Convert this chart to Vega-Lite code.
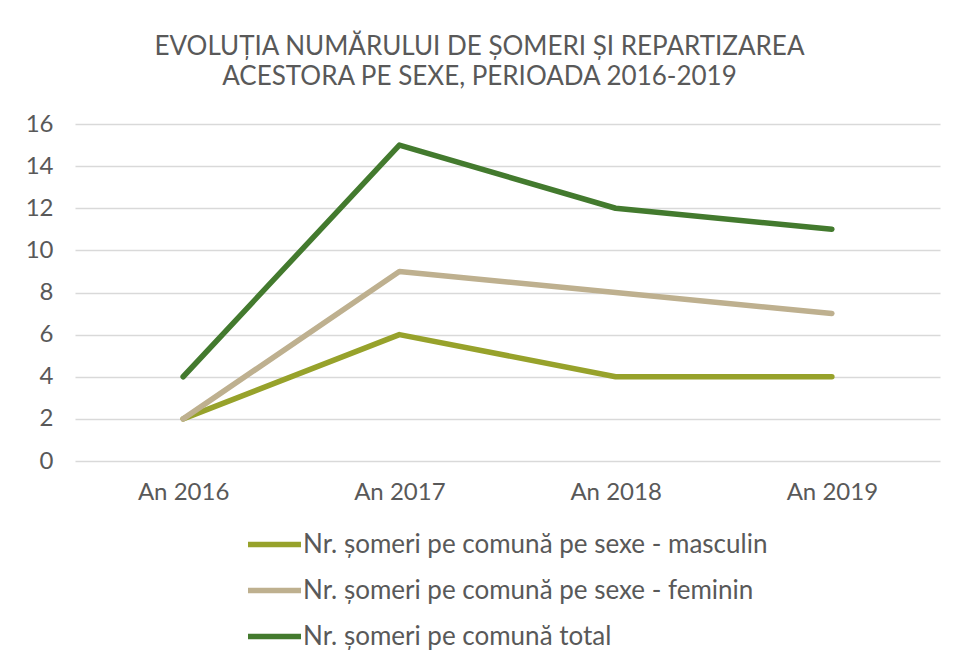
{
  "$schema": "https://vega.github.io/schema/vega-lite/v6.json",
  "autosize": "none",
  "width": 865,
  "height": 337,
  "padding": {"left": 75, "top": 124, "right": 17, "bottom": 203},
  "background": "white",
  "title": {
    "text": ["EVOLUȚIA NUMĂRULUI DE ȘOMERI ȘI REPARTIZAREA", "ACESTORA PE SEXE, PERIOADA 2016-2019"],
    "font": "Lato",
    "fontSize": 26,
    "fontWeight": "normal",
    "color": "#595959",
    "lineHeight": 30,
    "anchor": "middle",
    "dx": -28,
    "offset": 22
  },
  "data": {
    "values": [
      {"an": "An 2016", "serie": "Nr. șomeri pe comună pe sexe - masculin", "valoare": 2},
      {"an": "An 2017", "serie": "Nr. șomeri pe comună pe sexe - masculin", "valoare": 6},
      {"an": "An 2018", "serie": "Nr. șomeri pe comună pe sexe - masculin", "valoare": 4},
      {"an": "An 2019", "serie": "Nr. șomeri pe comună pe sexe - masculin", "valoare": 4},
      {"an": "An 2016", "serie": "Nr. șomeri pe comună pe sexe - feminin", "valoare": 2},
      {"an": "An 2017", "serie": "Nr. șomeri pe comună pe sexe - feminin", "valoare": 9},
      {"an": "An 2018", "serie": "Nr. șomeri pe comună pe sexe - feminin", "valoare": 8},
      {"an": "An 2019", "serie": "Nr. șomeri pe comună pe sexe - feminin", "valoare": 7},
      {"an": "An 2016", "serie": "Nr. șomeri pe comună total", "valoare": 4},
      {"an": "An 2017", "serie": "Nr. șomeri pe comună total", "valoare": 15},
      {"an": "An 2018", "serie": "Nr. șomeri pe comună total", "valoare": 12},
      {"an": "An 2019", "serie": "Nr. șomeri pe comună total", "valoare": 11}
    ]
  },
  "mark": {"type": "line", "strokeWidth": 5.5, "strokeCap": "round", "strokeJoin": "round"},
  "encoding": {
    "x": {
      "field": "an",
      "type": "ordinal",
      "scale": {"type": "point", "padding": 0.5},
      "axis": {
        "title": null,
        "labelAngle": 0,
        "domain": false,
        "ticks": false,
        "labelFont": "Lato",
        "labelFontSize": 24,
        "labelColor": "#595959",
        "labelPadding": 19
      }
    },
    "y": {
      "field": "valoare",
      "type": "quantitative",
      "scale": {"domain": [0, 16], "nice": false},
      "axis": {
        "title": null,
        "values": [0, 2, 4, 6, 8, 10, 12, 14, 16],
        "domain": false,
        "ticks": false,
        "labelFont": "Lato",
        "labelFontSize": 24,
        "labelColor": "#595959",
        "labelPadding": 22,
        "gridColor": "#D9D9D9",
        "gridWidth": 1.5
      }
    },
    "color": {
      "field": "serie",
      "type": "nominal",
      "sort": ["Nr. șomeri pe comună pe sexe - masculin", "Nr. șomeri pe comună pe sexe - feminin", "Nr. șomeri pe comună total"],
      "scale": {
        "domain": ["Nr. șomeri pe comună pe sexe - masculin", "Nr. șomeri pe comună pe sexe - feminin", "Nr. șomeri pe comună total"],
        "range": ["#97A22B", "#BEB08F", "#437A2E"]
      },
      "legend": {
        "title": null,
        "orient": "none",
        "legendX": 170,
        "legendY": 391,
        "direction": "vertical",
        "symbolType": "stroke",
        "symbolSize": 2809,
        "symbolStrokeWidth": 5.5,
        "labelFont": "Lato",
        "labelFontSize": 26,
        "labelColor": "#595959",
        "labelOffset": -1,
        "rowPadding": 3,
        "labelLimit": 700
      }
    }
  },
  "config": {
    "view": {"stroke": null}
  }
}
